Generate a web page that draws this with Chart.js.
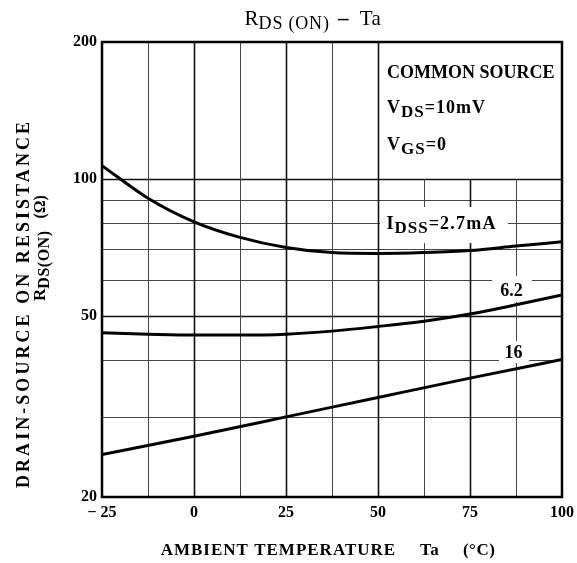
<!DOCTYPE html>
<html>
<head>
<meta charset="utf-8">
<script src="https://cdn.jsdelivr.net/npm/chart.js@4.4.0/dist/chart.umd.min.js"></script>
<style>
  html, body { margin: 0; padding: 0; background: #fff; }
  #wrap { width: 577px; height: 563px; }
</style>
</head>
<body>
<div id="wrap"><canvas id="rdsCanvas"></canvas></div>
<script>
// values
const tempAxis = [-25, -12.5, 0, 12.5, 25, 37.5, 50, 62.5, 75, 87.5, 100];
const rdsIdss27 = [107, 90.7, 80.5, 74.4, 70.7, 68.9, 68.6, 68.9, 69.6, 71.2, 72.8];
const rdsIdss62 = [45.9, 45.6, 45.4, 45.4, 45.6, 46.3, 47.4, 48.7, 50.5, 52.9, 55.6];
const tempCoarse = [-25, 0, 25, 50, 75, 100];
const rdsIdss16 = [24.8, 27.2, 30.0, 33.1, 36.5, 40.1];

const xGridLines = [-12.5, 0, 12.5, 25, 37.5, 50, 62.5, 75, 87.5];
const xTickLabels = [-25, 0, 25, 50, 75, 100];
const yGridLines = [30, 40, 50, 60, 70, 80, 90, 100];
const yTickLabels = [20, 50, 100, 200];

const SERIF = '"Liberation Serif", "DejaVu Serif", serif';

function toPoints(xs, ys) {
  return xs.map((x, i) => ({ x: x, y: ys[i] }));
}

function setFont(ctx, p) {
  ctx.font = (p.bold ? 'bold ' : '') + p.size + 'px ' + SERIF;
  ctx.letterSpacing = (p.sp || 0) + 'px';
}

// draws a run of text pieces (for subscripts), returns width
function drawParts(ctx, parts, x, y, align) {
  let w = 0;
  parts.forEach(p => { setFont(ctx, p); w += ctx.measureText(p.t).width; });
  let cx = align === 'center' ? x - w / 2 : x;
  ctx.textAlign = 'left';
  parts.forEach(p => {
    setFont(ctx, p);
    ctx.fillText(p.t, cx, y + (p.dy || 0));
    cx += ctx.measureText(p.t).width;
  });
  ctx.letterSpacing = '0px';
  return w;
}

// text stretched to a given length with letter spacing
function spacedText(ctx, text, cx, cy, len) {
  ctx.letterSpacing = '0px';
  const w = ctx.measureText(text).width;
  const sp = Math.max(0, (len - w) / (text.length - 1));
  ctx.letterSpacing = sp + 'px';
  ctx.textAlign = 'left';
  ctx.fillText(text, cx - len / 2, cy);
  ctx.letterSpacing = '0px';
}

const paperGrid = {
  id: 'paperGrid',
  beforeDatasetsDraw(chart) {
    const { ctx, chartArea: a, scales: { x, y } } = chart;
    ctx.save();
    // horizontal lines only below 100 ohm
    yGridLines.forEach(v => {
      const py = Math.round(y.getPixelForValue(v)) + 0.5;
      const major = (v === 100 || v === 50);
      ctx.lineWidth = major ? 1.6 : 1;
      ctx.strokeStyle = major ? '#111' : '#444';
      ctx.beginPath();
      ctx.moveTo(a.left, py);
      ctx.lineTo(a.right, py);
      ctx.stroke();
    });
    // vertical lines, cut off above 100 ohm right of 50 C (text box)
    const y100 = y.getPixelForValue(100);
    xGridLines.forEach(v => {
      const px = Math.round(x.getPixelForValue(v)) + 0.5;
      const major = (v % 25 === 0);
      ctx.lineWidth = major ? 1.6 : 1;
      ctx.strokeStyle = major ? '#111' : '#444';
      ctx.beginPath();
      ctx.moveTo(px, v > 50 ? y100 : a.top);
      ctx.lineTo(px, a.bottom);
      ctx.stroke();
    });

    // white patches behind the curve labels
    ctx.fillStyle = '#fff';
    const px50 = x.getPixelForValue(50);
    const py80 = y.getPixelForValue(80);
    ctx.fillRect(px50 + 2, py80 - 16, 128, 36);
    const px875 = x.getPixelForValue(87.5);
    const py60 = y.getPixelForValue(60);
    ctx.fillRect(px875 - 24, py60 - 4, 40, 26);
    const py40 = y.getPixelForValue(40);
    ctx.fillRect(px875 - 17, py40 - 19, 30, 22);

    // frame
    ctx.lineWidth = 2.5;
    ctx.strokeStyle = '#000';
    ctx.strokeRect(a.left, a.top, a.right - a.left, a.bottom - a.top);
    ctx.restore();
  },
  afterDraw(chart) {
    const { ctx, scales: { x, y } } = chart;
    ctx.save();
    ctx.fillStyle = '#000';
    ctx.textBaseline = 'alphabetic';

    // title
    drawParts(ctx, [
      { t: 'R', size: 21 },
      { t: 'DS (ON)', size: 18, dy: 4, sp: 0.8 },
      { t: ' \u2013 ', size: 21, bold: true, sp: 3 },
      { t: 'Ta', size: 21, sp: 0.5 }
    ], 313, 25, 'center');

    // condition box
    const lx = x.getPixelForValue(50) + 9;
    ctx.font = 'bold 18px ' + SERIF;
    spacedText(ctx, 'COMMON SOURCE', lx + 83, 78, 166);
    drawParts(ctx, [
      { t: 'V', size: 18, bold: true, sp: 1 },
      { t: 'DS', size: 17, bold: true, dy: 4, sp: 1 },
      { t: '=10mV', size: 18, bold: true, sp: 1 }
    ], lx, 113, 'left');
    drawParts(ctx, [
      { t: 'V', size: 18, bold: true, sp: 1 },
      { t: 'GS', size: 17, bold: true, dy: 4, sp: 1 },
      { t: '=0', size: 18, bold: true, sp: 1 }
    ], lx, 150, 'left');

    // curve labels
    drawParts(ctx, [
      { t: 'I', size: 18, bold: true, sp: 1 },
      { t: 'DSS', size: 17, bold: true, dy: 4, sp: 1 },
      { t: '=2.7mA', size: 18, bold: true, sp: 1.2 }
    ], x.getPixelForValue(52.3), y.getPixelForValue(80) + 6, 'left');
    drawParts(ctx, [{ t: '6.2', size: 18, bold: true }],
      x.getPixelForValue(86.3), y.getPixelForValue(60) + 16, 'center');
    drawParts(ctx, [{ t: '16', size: 18, bold: true }],
      x.getPixelForValue(86.8), y.getPixelForValue(40) - 2, 'center');

    // x axis title
    drawParts(ctx, [
      { t: 'AMBIENT TEMPERATURE', size: 17, bold: true, sp: 1 },
      { t: '     Ta     (\u00b0C)', size: 17, bold: true, sp: 0.5 }
    ], 328, 555, 'center');

    // y axis title, rotated
    ctx.save();
    ctx.translate(24, 305);
    ctx.rotate(-Math.PI / 2);
    ctx.textBaseline = 'middle';
    ctx.font = 'bold 18px ' + SERIF;
    spacedText(ctx, 'DRAIN-SOURCE ON RESISTANCE', 0, 0, 366);
    ctx.restore();

    ctx.save();
    ctx.translate(41, 248);
    ctx.rotate(-Math.PI / 2);
    ctx.textBaseline = 'middle';
    drawParts(ctx, [
      { t: 'R', size: 17, bold: true },
      { t: 'DS(ON)', size: 16, bold: true, dy: 4, sp: 0.5 },
      { t: '   (\u03a9)', size: 16, bold: true }
    ], 0, 0, 'center');
    ctx.restore();

    ctx.restore();
  }
};

const curveStyle = {
  borderColor: '#000',
  borderWidth: 3,
  pointRadius: 0,
  fill: false,
  cubicInterpolationMode: 'monotone'
};

const rdsChart = new Chart(document.getElementById('rdsCanvas'), {
  type: 'line',
  data: {
    datasets: [
      Object.assign({ label: 'IDSS=2.7mA', data: toPoints(tempAxis, rdsIdss27) }, curveStyle),
      Object.assign({ label: 'IDSS=6.2mA', data: toPoints(tempAxis, rdsIdss62) }, curveStyle),
      Object.assign({ label: 'IDSS=16mA', data: toPoints(tempCoarse, rdsIdss16) }, curveStyle)
    ]
  },
  options: {
    responsive: true,
    maintainAspectRatio: false,
    animation: false,
    layout: { padding: { top: 42, right: 15, left: 0, bottom: 0 } },
    plugins: {
      legend: { display: false },
      tooltip: { enabled: false }
    },
    scales: {
      x: {
        type: 'linear',
        min: -25,
        max: 100,
        afterBuildTicks: s => { s.ticks = xTickLabels.map(v => ({ value: v })); },
        afterFit: s => { s.height = 66; s.paddingLeft = 0; s.paddingRight = 0; },
        ticks: {
          autoSkip: false,
          maxRotation: 0,
          padding: 6,
          color: '#000',
          font: { family: SERIF, size: 16, weight: 'bold' },
          callback: v => v < 0 ? '\u2212 ' + Math.abs(v) : String(v)
        },
        grid: { display: false, drawTicks: false },
        border: { display: false }
      },
      y: {
        type: 'logarithmic',
        min: 20,
        max: 200,
        afterBuildTicks: s => { s.ticks = yTickLabels.map(v => ({ value: v })); },
        afterFit: s => { s.width = 102; s.paddingTop = 0; s.paddingBottom = 0; },
        ticks: {
          padding: 5,
          color: '#000',
          font: { family: SERIF, size: 16, weight: 'bold' },
          callback: v => String(v)
        },
        grid: { display: false, drawTicks: false },
        border: { display: false }
      }
    }
  },
  plugins: [paperGrid]
});
</script>
</body>
</html>
